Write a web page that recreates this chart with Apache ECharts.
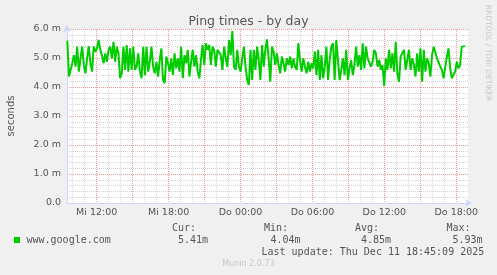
<!DOCTYPE html>
<html><head><meta charset="utf-8">
<script src="https://cdn.jsdelivr.net/npm/echarts@6/dist/echarts.min.js"></script>
<style>html,body{margin:0;padding:0;background:#f0f0f0;}#c{width:497px;height:275px;}</style>
</head><body><div id="c"></div>
<script>
const seriesName = 'www.google.com';
const titleText = 'Ping times - by day';
const yAxisName = 'seconds';
const startHour = 9.55;       // Wed 09:33
const sampleMinutes = 8.26;
const pingMs = [
5.60, 4.36, 4.30, 4.82, 5.10, 4.70, 5.39, 4.53, 4.99, 5.39,
4.76, 4.47, 4.99, 5.41, 4.82, 4.53, 5.39, 5.22, 5.33, 5.62,
5.28, 5.10, 4.82, 5.16, 4.87, 5.28, 5.39, 4.99, 5.56, 4.87,
5.39, 5.16, 4.30, 4.47, 5.39, 4.59, 5.45, 4.53, 5.33, 4.59,
5.39, 4.59, 4.70, 5.16, 4.53, 4.30, 5.39, 4.41, 5.39, 4.53,
4.87, 5.39, 4.70, 4.47, 4.87, 4.36, 4.93, 5.33, 4.24, 4.13,
5.05, 4.82, 4.53, 4.99, 4.41, 5.16, 4.64, 4.99, 4.53, 5.39,
4.30, 5.10, 4.82, 5.28, 4.36, 4.87, 5.28, 4.70, 5.10, 4.53,
4.30, 4.93, 5.45, 4.76, 5.51, 5.28, 5.45, 4.76, 5.39, 5.28,
4.70, 5.28, 5.33, 5.10, 4.59, 5.39, 4.99, 4.70, 5.62, 5.10,
5.93, 4.70, 4.59, 5.28, 4.70, 4.53, 4.99, 5.39, 4.70, 4.24,
4.07,
5.28, 4.24, 5.28, 4.59, 5.39, 4.93, 4.24, 5.45, 4.70, 5.28,
5.64, 4.99, 4.18, 5.39, 5.22, 4.76, 5.16, 4.76, 4.47, 5.05,
4.82, 4.53, 4.99, 4.76, 5.05, 4.64, 4.99, 4.70, 4.59, 5.51,
4.93, 4.53, 4.99, 4.70, 4.47, 4.87, 4.53, 4.82, 4.64, 5.22,
4.41, 5.28, 4.24, 5.10, 4.30, 4.70, 5.39, 4.24, 4.93, 5.39,
5.51, 4.24, 5.62, 5.56, 4.24, 4.59, 4.99, 4.41, 5.28, 4.24,
4.64, 4.93, 4.41, 4.76, 5.39, 4.70, 5.10, 4.59, 5.51, 4.64,
5.39, 4.99, 4.93, 4.70, 4.87, 5.28, 5.16, 4.70, 4.93, 4.59,
4.76, 4.04, 4.99, 4.59, 5.28, 4.64, 5.16, 4.53, 5.56, 4.47,
4.18, 5.05, 4.99, 5.28, 4.59, 4.93, 5.28, 4.59, 4.99, 4.76,
4.36, 5.16, 4.53, 5.33, 4.18, 5.28, 4.53, 4.99, 4.82, 4.36,
5.10, 5.39, 5.33, 4.99, 5.05, 4.70, 4.59, 4.30, 4.24, 5.05,
5.33, 4.64, 4.30, 4.24, 4.53, 4.87, 4.64, 4.76, 5.39, 5.39,
5.41
];
const xLabelHours = [12, 18, 24, 30, 36, 42];
const xMajorHours = [12, 15, 18, 21, 24, 27, 30, 33, 36, 39, 42];
const xMinorHours = [10, 11, 13, 14, 16, 17, 19, 20, 22, 23, 25, 26, 28, 29, 31, 32, 34, 35, 37, 38, 40, 41];
const dayNames = ['Mi', 'Do'];
const statLabels = ['Cur:', 'Min:', 'Avg:', 'Max:'];
const statValues = ['5.41m', '4.04m', '4.85m', '5.93m'];
const lastUpdate = 'Last update: Thu Dec 11 18:45:09 2025';
const watermark = 'RRDTOOL / TOBI OETIKER';
const version = 'Munin 2.0.73';

const GREEN = '#00cc00';
const AXIS = '#cfd6f8';
const MGRID = '#ec9a9a';
const GRID = '#d6d6d6';
const FONT = '#555';
const SANS = '"DejaVu Sans", sans-serif';
const MONO = '"DejaVu Sans Mono", monospace';

const lineData = pingMs.map((v, i) => [startHour + i * sampleMinutes / 60, v]);
const X_MIN = 9.525, X_MAX = 42.975;

const statX = [172, 264, 355, 446.5];
const valX = [178, 270.5, 361, 452.5];

const graphics = [
  { type: 'text', x: 11, y: 116, rotation: Math.PI / 2,
    style: { text: yAxisName, fill: FONT, font: '10px ' + SANS, align: 'center', verticalAlign: 'middle' } },
  { type: 'text', x: 488, y: 53, rotation: -Math.PI / 2,
    style: { text: watermark, fill: '#c8c8c8', font: '7.5px ' + SANS, align: 'center', verticalAlign: 'middle' } },
  { type: 'rect', shape: { x: 14, y: 237, width: 6, height: 6 }, style: { fill: GREEN } },
  { type: 'text', x: 26.5, y: 240,
    style: { text: seriesName, fill: FONT, font: '10px ' + MONO, align: 'left', verticalAlign: 'middle' } },
  { type: 'text', x: 261.5, y: 252,
    style: { text: lastUpdate, fill: FONT, font: '10px ' + MONO, align: 'left', verticalAlign: 'middle' } },
  { type: 'text', x: 248.5, y: 264,
    style: { text: version, fill: '#c8c8c8', font: '8px ' + SANS, align: 'center', verticalAlign: 'middle' } }
];
statLabels.forEach((t, i) => {
  graphics.push({ type: 'text', x: statX[i], y: 228,
    style: { text: t, fill: FONT, font: '10px ' + MONO, align: 'left', verticalAlign: 'middle' } });
  graphics.push({ type: 'text', x: valX[i], y: 240,
    style: { text: statValues[i], fill: FONT, font: '10px ' + MONO, align: 'left', verticalAlign: 'middle' } });
});

const chart = echarts.init(document.getElementById('c'), null, { renderer: 'canvas' });
chart.setOption({
  backgroundColor: '#f0f0f0',
  animation: false,
  title: {
    text: titleText, left: 'center', top: 10,
    textStyle: { color: FONT, fontSize: 12.5, fontWeight: 'normal', fontFamily: SANS }
  },
  grid: { left: 67, top: 29, width: 401, height: 174, show: true, backgroundColor: '#ffffff', borderWidth: 0 },
  xAxis: [
    {
      type: 'value', min: X_MIN, max: X_MAX,
      axisLine: { show: true, lineStyle: { color: AXIS, width: 1 }, symbol: ['none', 'arrow'], symbolSize: [6, 7], symbolOffset: [0, 4] },
      axisTick: { show: false, customValues: xMajorHours },
      axisLabel: {
        customValues: xLabelHours, margin: 5, color: FONT, fontSize: 9.5, fontFamily: SANS,
        formatter: v => dayNames[Math.floor(v / 24)] + ' ' + String(v % 24).padStart(2, '0') + ':00'
      },
      splitLine: { show: true, lineStyle: { color: MGRID, width: 1, type: [1, 1] } },
      z: 3
    },
    {
      type: 'value', min: X_MIN, max: X_MAX,
      axisLine: { show: false }, axisLabel: { show: false },
      axisTick: { show: false, customValues: xMinorHours },
      splitLine: { show: true, lineStyle: { color: GRID, width: 1, type: [1, 1] } }
    }
  ],
  yAxis: {
    type: 'value', min: 0, max: 6, interval: 1,
    axisLine: { show: true, lineStyle: { color: AXIS, width: 1 }, symbol: ['none', 'arrow'], symbolSize: [6, 7], symbolOffset: [0, 4] },
    axisTick: { show: false },
    axisLabel: { margin: 6, color: FONT, fontSize: 9.5, fontFamily: SANS,
      formatter: v => v === 0 ? '0.0' : v.toFixed(1) + ' m' },
    splitLine: { show: true, lineStyle: { color: MGRID, width: 1, type: [1, 1] } },
    minorTick: { show: false, splitNumber: 5 },
    minorSplitLine: { show: true, lineStyle: { color: GRID, width: 1, type: [1, 1] } }
  },
  series: [{
    name: seriesName, type: 'line', data: lineData, xAxisIndex: 0,
    showSymbol: false, symbol: 'none',
    lineStyle: { color: GREEN, width: 2 }, z: 5
  }],
  graphic: graphics
});
</script></body></html>
